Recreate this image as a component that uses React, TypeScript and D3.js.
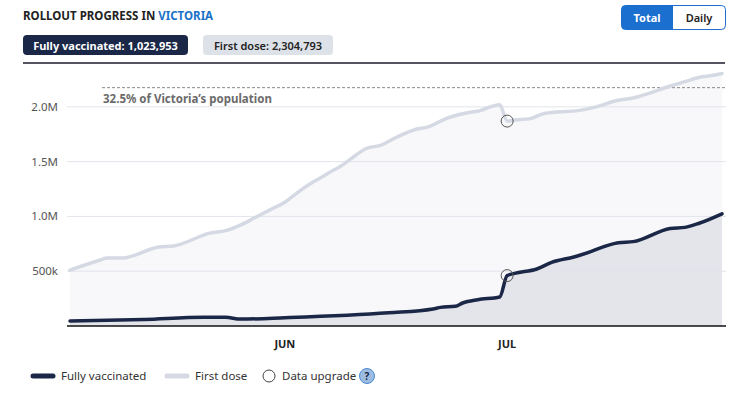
import React from "react";
import * as d3 from "d3";

// first dose, cumulative (millions)
const firstDates = [
  "2021-05-03", "2021-05-07", "2021-05-08", "2021-05-10", "2021-05-15", "2021-05-17",
  "2021-05-22", "2021-05-24", "2021-05-26", "2021-05-28", "2021-05-30", "2021-06-01",
  "2021-06-02", "2021-06-04", "2021-06-05", "2021-06-07", "2021-06-09", "2021-06-10",
  "2021-06-12", "2021-06-14", "2021-06-16", "2021-06-19", "2021-06-20", "2021-06-23",
  "2021-06-26", "2021-06-27", "2021-06-30", "2021-07-01", "2021-07-02", "2021-07-04",
  "2021-07-06", "2021-07-11", "2021-07-13", "2021-07-16", "2021-07-18", "2021-07-20",
  "2021-07-23", "2021-07-25", "2021-07-27", "2021-07-28", "2021-07-30",
];
const firstValues = [
  0.51, 0.6, 0.62, 0.62, 0.72, 0.73,
  0.85, 0.87, 0.92, 0.99, 1.06, 1.13,
  1.18, 1.28, 1.32, 1.4, 1.48, 1.53,
  1.62, 1.65, 1.72, 1.8, 1.81, 1.9,
  1.95, 1.96, 2.02, 1.87, 1.88, 1.89,
  1.94, 1.97, 2.0, 2.06, 2.08, 2.12,
  2.19, 2.23, 2.27, 2.28, 2.3048,
];

// fully vaccinated, cumulative (millions)
const fullDates = [
  "2021-05-03", "2021-05-13", "2021-05-21", "2021-05-24", "2021-05-26", "2021-06-01",
  "2021-06-15", "2021-06-21", "2021-06-22", "2021-06-24", "2021-06-25", "2021-06-27",
  "2021-06-30", "2021-07-01", "2021-07-02", "2021-07-05", "2021-07-07", "2021-07-10",
  "2021-07-11", "2021-07-16", "2021-07-18", "2021-07-23", "2021-07-25", "2021-07-27",
  "2021-07-30",
];
const fullValues = [
  0.046, 0.06, 0.08, 0.08, 0.063, 0.075,
  0.12, 0.155, 0.17, 0.18, 0.21, 0.24,
  0.265, 0.46, 0.48, 0.52, 0.58, 0.63,
  0.65, 0.76, 0.77, 0.89, 0.9, 0.94,
  1.024,
];

const upgradeDate = "2021-07-01";
const populationTarget = 2.175; // 32.5% of population
const yTicks = [0.5, 1.0, 1.5, 2.0];
const monthTicks = ["2021-06-01", "2021-07-01"];

const parse = d3.utcParse("%Y-%m-%d");

export default function App() {
  const W = 740;
  const H = 399;
  const left = 70;
  const right = 722;
  const top = 63;
  const bottom = 326;

  const first = firstDates.map((d, i) => ({ date: parse(d)!, v: firstValues[i] }));
  const full = fullDates.map((d, i) => ({ date: parse(d)!, v: fullValues[i] }));

  const x = d3.scaleUtc().domain([parse("2021-05-03")!, parse("2021-07-30")!]).range([left, right]);
  const y = d3.scaleLinear().domain([0, 2.4]).range([bottom, top]);

  type P = { date: Date; v: number };
  const line = d3.line<P>().x((d) => x(d.date)).y((d) => y(d.v)).curve(d3.curveMonotoneX);
  const area = d3.area<P>().x((d) => x(d.date)).y0(bottom).y1((d) => y(d.v)).curve(d3.curveMonotoneX);

  const fmt = (v: number) => (v < 1 ? `${Math.round(v * 1000)}k` : `${v.toFixed(1)}M`);
  const up = parse(upgradeDate)!;
  const upFirst = firstValues[firstDates.indexOf(upgradeDate)];
  const upFull = fullValues[fullDates.indexOf(upgradeDate)];

  const font = "'Noto Sans', sans-serif";
  const navy = "#1b2747";

  return (
    <svg width={W} height={H} style={{ position: "absolute", left: 0, top: 0, fontFamily: font }}>
      {/* header */}
      <text x={23} y={20} fontSize={11.5} fontWeight={700} fill="#222">
        ROLLOUT PROGRESS IN <tspan fill="#1a73c8">VICTORIA</tspan>
      </text>
      <rect x={23} y={35} width={165} height={20} rx={4} fill={navy} />
      <text x={105.5} y={49.5} fontSize={11} fontWeight={700} fill="#fff" textAnchor="middle">
        Fully vaccinated: 1,023,953
      </text>
      <rect x={203} y={35} width={130} height={20} rx={4} fill="#dde1e8" />
      <text x={268} y={49.5} fontSize={11} fontWeight={600} fill="#222" textAnchor="middle">
        First dose: 2,304,793
      </text>

      {/* toggle */}
      <rect x={621.5} y={5.5} width={104} height={24} rx={4} fill="#fff" stroke="#1a6fcf" />
      <path d="M625.5,5.5 H673 V29.5 H625.5 A4,4 0 0 1 621.5,25.5 V9.5 A4,4 0 0 1 625.5,5.5 Z" fill="#1a6fcf" />
      <text x={647} y={21.5} fontSize={11} fontWeight={700} fill="#fff" textAnchor="middle">Total</text>
      <text x={699} y={21.5} fontSize={11} fontWeight={600} fill="#222" textAnchor="middle">Daily</text>

      {/* top rule */}
      <line x1={23} x2={725} y1={63} y2={63} stroke="#1a1a2e" strokeWidth={1.5} />

      {/* areas */}
      <path d={area(first) || ""} fill="#f8f8fa" />
      <path d={area(full) || ""} fill="#e4e5ea" />

      {/* grid */}
      {yTicks.map((t) => (
        <g key={t}>
          <line x1={67} x2={726} y1={y(t)} y2={y(t)} stroke="#e1e4eb" strokeWidth={1} />
          <text x={58} y={y(t) + 4} fontSize={11.5} fill="#555" textAnchor="end">
            {fmt(t)}
          </text>
        </g>
      ))}

      {/* population target */}
      <line x1={102} x2={725} y1={y(populationTarget)} y2={y(populationTarget)} stroke="#8a8a8a" strokeDasharray="3 2" />
      <text x={103} y={y(populationTarget) + 15} fontSize={11.5} fontWeight={700} fill="#6b6b6b">
        32.5% of Victoria’s population
      </text>

      {/* lines */}
      <path d={line(first) || ""} fill="none" stroke="#d5d9e3" strokeWidth={3.5} strokeLinejoin="round" strokeLinecap="round" />
      <path d={line(full) || ""} fill="none" stroke={navy} strokeWidth={3.5} strokeLinejoin="round" strokeLinecap="round" />

      {/* upgrade markers */}
      <circle cx={x(up)} cy={y(upFirst)} r={6} fill="none" stroke="#555" strokeWidth={1} />
      <circle cx={x(up)} cy={y(upFull)} r={6} fill="none" stroke="#555" strokeWidth={1} />

      {/* x axis */}
      <line x1={67} x2={726} y1={bottom} y2={bottom} stroke="#111" strokeWidth={1.5} />
      {monthTicks.map((m) => (
        <text key={m} x={x(parse(m)!)} y={348} fontSize={11} fontWeight={700} fill="#222" textAnchor="middle">
          {d3.utcFormat("%b")(parse(m)!).toUpperCase()}
        </text>
      ))}

      {/* legend */}
      <line x1={33} x2={53} y1={376} y2={376} stroke={navy} strokeWidth={5} strokeLinecap="round" />
      <text x={61} y={380} fontSize={11.5} fill="#333">Fully vaccinated</text>
      <line x1={167} x2={187} y1={376} y2={376} stroke="#d5d9e3" strokeWidth={5} strokeLinecap="round" />
      <text x={195} y={380} fontSize={11.5} fill="#333">First dose</text>
      <circle cx={269} cy={376} r={6} fill="#fff" stroke="#444" strokeWidth={1} />
      <text x={282} y={380} fontSize={11.5} fill="#333">Data upgrade</text>
      <circle cx={367} cy={376} r={7.5} fill="#9dbce0" stroke="#4a8ad6" strokeWidth={1} />
      <text x={367} y={380} fontSize={10} fontWeight={700} fill="#1b2747" textAnchor="middle">?</text>
    </svg>
  );
}
